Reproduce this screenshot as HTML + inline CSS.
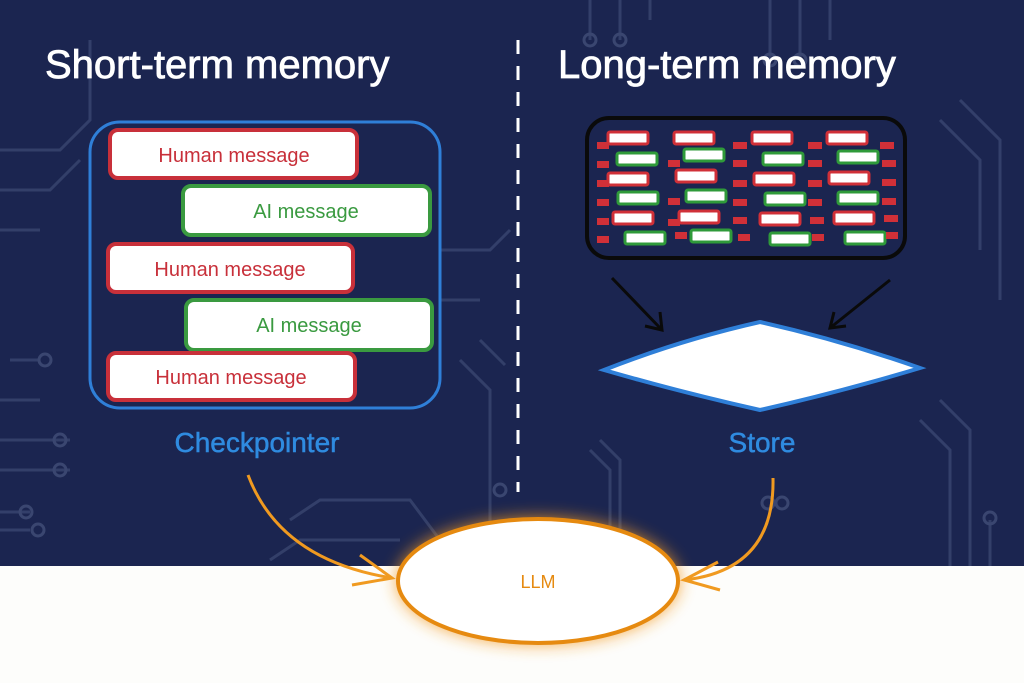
<!DOCTYPE html>
<html><head><style>body{margin:0}svg{display:block}</style></head><body>
<svg width="1024" height="683" viewBox="0 0 1024 683" xmlns="http://www.w3.org/2000/svg" font-family="Liberation Sans, sans-serif">
<defs>
<filter id="glow" x="-50%" y="-50%" width="200%" height="200%"><feGaussianBlur stdDeviation="8"/></filter>
</defs>
<rect width="1024" height="683" fill="#1b2550"/>
<g stroke="#3a4670" stroke-width="3" fill="none" opacity="0.8">
<path d="M0 150 H60 L90 120 V40"/><path d="M0 190 H50 L80 160"/><path d="M0 230 H40"/><path d="M0 440 H70"/><path d="M0 470 H70"/>
<path d="M0 512 H30 M0 530 H30"/><path d="M290 520 L320 500 H410 L440 540"/><path d="M270 560 L300 540 H400"/>
<path d="M590 40 V0 M620 40 V0 M650 20 V0"/><path d="M770 0 V60 M800 0 V60 M830 0 V40"/>
<path d="M940 120 L980 160 V250 M960 100 L1000 140 V300"/><path d="M920 420 L950 450 V566 M940 400 L970 430 V566"/>
<path d="M590 450 L610 470 V566 M600 440 L620 460 V566"/><path d="M990 520 V566"/>
<path d="M460 360 L490 390 V566 M480 340 L505 365"/><path d="M40 360 H10 M40 400 H0"/>
<path d="M440 300 H480 M440 250 H490 L510 230"/>
</g>
<g fill="none" stroke="#3a4670" stroke-width="3">
<circle cx="60" cy="440" r="6"/><circle cx="60" cy="470" r="6"/><circle cx="26" cy="512" r="6"/><circle cx="38" cy="530" r="6"/>
<circle cx="500" cy="490" r="6"/><circle cx="768" cy="503" r="6"/><circle cx="782" cy="503" r="6"/><circle cx="990" cy="518" r="6"/>
<circle cx="45" cy="360" r="6"/><circle cx="590" cy="40" r="6"/><circle cx="620" cy="40" r="6"/><circle cx="800" cy="60" r="6"/><circle cx="770" cy="60" r="6"/>
</g>
<rect x="0" y="566" width="1024" height="117" fill="#fdfdfb"/>
<line x1="518" y1="40" x2="518" y2="492" stroke="#fff" stroke-width="3" stroke-dasharray="14 12"/>
<text x="45" y="78" fill="#fff" font-size="40" stroke="#fff" stroke-width="0.8">Short-term memory</text>
<text x="558" y="78" fill="#fff" font-size="40" stroke="#fff" stroke-width="0.8">Long-term memory</text>
<rect x="90" y="122" width="350" height="286" rx="30" fill="none" stroke="#2f7fd8" stroke-width="3"/>
<g font-size="20" text-anchor="middle">
<rect x="110" y="130" width="247" height="48" rx="8" fill="#fff" stroke="#c8303a" stroke-width="4"/><text x="234" y="162" fill="#c8303a">Human message</text>
<rect x="183" y="186" width="247" height="49" rx="8" fill="#fff" stroke="#3a9a40" stroke-width="4"/><text x="306" y="218" fill="#3a9a40">AI message</text>
<rect x="108" y="244" width="245" height="48" rx="8" fill="#fff" stroke="#c8303a" stroke-width="4"/><text x="230" y="276" fill="#c8303a">Human message</text>
<rect x="186" y="300" width="246" height="50" rx="8" fill="#fff" stroke="#3a9a40" stroke-width="4"/><text x="309" y="332" fill="#3a9a40">AI message</text>
<rect x="108" y="353" width="247" height="47" rx="8" fill="#fff" stroke="#c8303a" stroke-width="4"/><text x="231" y="384" fill="#c8303a">Human message</text>
</g>
<text x="257" y="452" fill="#2f8be0" font-size="28" text-anchor="middle" stroke="#2f8be0" stroke-width="0.5">Checkpointer</text>
<text x="762" y="452" fill="#2f8be0" font-size="28" text-anchor="middle" stroke="#2f8be0" stroke-width="0.5">Store</text>
<rect x="587" y="118" width="318" height="140" rx="22" fill="none" stroke="#0a0a0a" stroke-width="4"/>
<g stroke-width="3">
<g fill="#fff" stroke="#d03038">
<rect x="608" y="132" width="40" height="12" rx="2"/><rect x="674" y="132" width="40" height="12" rx="2"/><rect x="752" y="132" width="40" height="12" rx="2"/><rect x="827" y="132" width="40" height="12" rx="2"/>
<rect x="608" y="173" width="40" height="12" rx="2"/><rect x="676" y="170" width="40" height="12" rx="2"/><rect x="754" y="173" width="40" height="12" rx="2"/><rect x="829" y="172" width="40" height="12" rx="2"/>
<rect x="613" y="212" width="40" height="12" rx="2"/><rect x="679" y="211" width="40" height="12" rx="2"/><rect x="760" y="213" width="40" height="12" rx="2"/><rect x="834" y="212" width="40" height="12" rx="2"/>
</g>
<g fill="#fff" stroke="#2f9a3a">
<rect x="617" y="153" width="40" height="12" rx="2"/><rect x="684" y="149" width="40" height="12" rx="2"/><rect x="763" y="153" width="40" height="12" rx="2"/><rect x="838" y="151" width="40" height="12" rx="2"/>
<rect x="618" y="192" width="40" height="12" rx="2"/><rect x="686" y="190" width="40" height="12" rx="2"/><rect x="765" y="193" width="40" height="12" rx="2"/><rect x="838" y="192" width="40" height="12" rx="2"/>
<rect x="625" y="232" width="40" height="12" rx="2"/><rect x="691" y="230" width="40" height="12" rx="2"/><rect x="770" y="233" width="40" height="12" rx="2"/><rect x="845" y="232" width="40" height="12" rx="2"/>
</g>
</g>
<g fill="#d03038">
<rect x="597" y="142" width="12" height="7"/><rect x="597" y="161" width="12" height="7"/><rect x="597" y="180" width="12" height="7"/><rect x="597" y="199" width="12" height="7"/><rect x="597" y="218" width="12" height="7"/><rect x="597" y="236" width="12" height="7"/>
<rect x="668" y="160" width="12" height="7"/><rect x="668" y="198" width="12" height="7"/><rect x="668" y="219" width="12" height="7"/><rect x="675" y="232" width="12" height="7"/>
<rect x="733" y="142" width="14" height="7"/><rect x="733" y="160" width="14" height="7"/><rect x="733" y="180" width="14" height="7"/><rect x="733" y="199" width="14" height="7"/><rect x="733" y="217" width="14" height="7"/><rect x="738" y="234" width="12" height="7"/>
<rect x="808" y="142" width="14" height="7"/><rect x="808" y="160" width="14" height="7"/><rect x="808" y="180" width="14" height="7"/><rect x="808" y="199" width="14" height="7"/><rect x="810" y="217" width="14" height="7"/><rect x="812" y="234" width="12" height="7"/>
<rect x="880" y="142" width="14" height="7"/><rect x="882" y="160" width="14" height="7"/><rect x="882" y="179" width="14" height="7"/><rect x="882" y="198" width="14" height="7"/><rect x="884" y="215" width="14" height="7"/><rect x="886" y="232" width="12" height="7"/>
</g>
<path d="M612 278 L662 330 M645 326 L662 330 L660 312" fill="none" stroke="#0a0a0a" stroke-width="3"/>
<path d="M890 280 L830 328 M846 326 L830 328 L834 312" fill="none" stroke="#0a0a0a" stroke-width="3"/>
<path d="M604 370 Q680 340 760 322 Q840 340 920 368 Q840 392 760 410 Q680 392 604 370Z" fill="#fff" stroke="#2f7fd8" stroke-width="4"/>
<ellipse cx="538" cy="581" rx="142" ry="64" fill="#f39a20" filter="url(#glow)" opacity="0.8"/>
<ellipse cx="538" cy="581" rx="140" ry="62" fill="#fff" stroke="#e68a10" stroke-width="4"/>
<text x="538" y="588" fill="#e68a10" font-size="18" text-anchor="middle">LLM</text>
<g fill="none" stroke="#f09a20" stroke-width="3">
<path d="M248 475 Q280 560 392 578"/><path d="M360 555 L392 578 L352 585"/>
<path d="M773 478 Q775 570 684 580"/><path d="M718 562 L684 580 L720 590"/>
</g>
</svg>
</body></html>
